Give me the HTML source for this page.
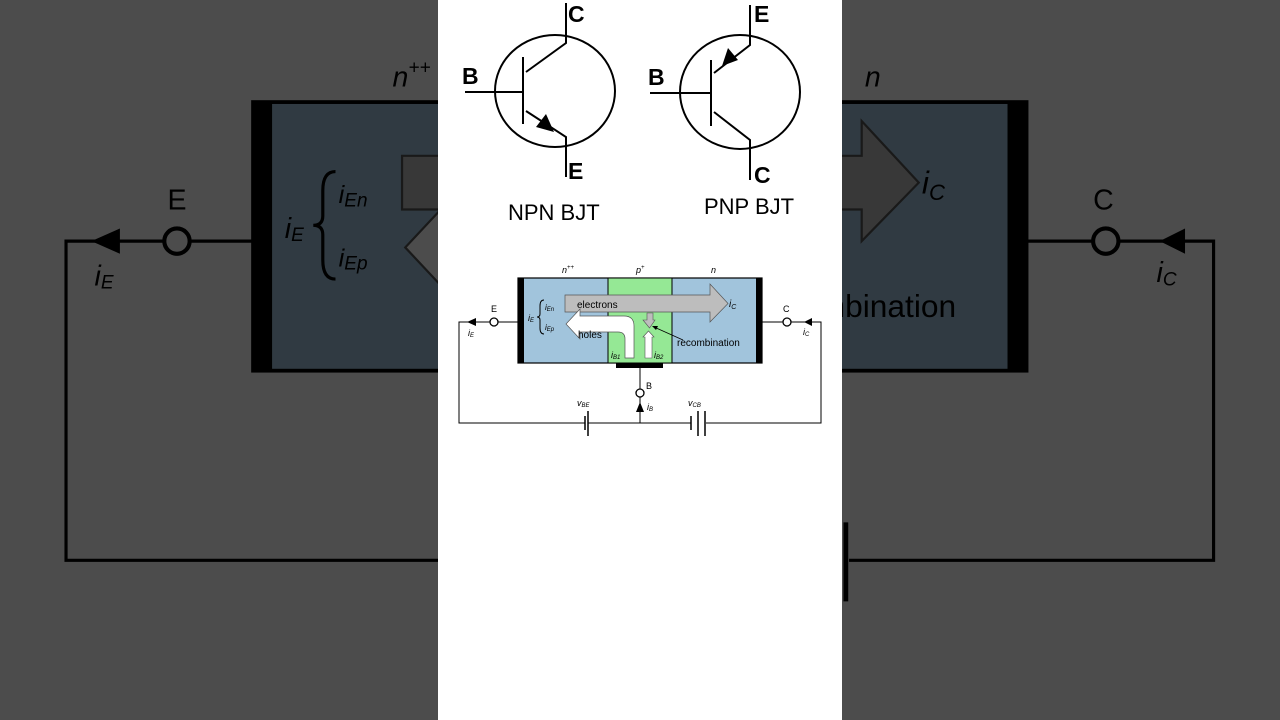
<!DOCTYPE html>
<html><head><meta charset="utf-8"><style>
html,body{margin:0;padding:0;background:#4d4d4d;}
svg{display:block;}
text{font-family:"Liberation Sans","DejaVu Sans",sans-serif;}
.it{font-style:italic;}
</style></head><body>
<svg width="1280" height="720" viewBox="0 0 1280 720" xmlns="http://www.w3.org/2000/svg">
<rect width="1280" height="720" fill="#fff"/>
<g transform="translate(-1389,-776.4) scale(3.17,3.16)">
  <rect x="518" y="278" width="244" height="85" fill="#a1c4dc" stroke="#000" stroke-width="1.2"/>
  <rect x="608" y="278" width="64" height="85" fill="#95e895" stroke="#000" stroke-width="1"/>
  <rect x="518" y="278" width="6" height="85" fill="#000"/>
  <rect x="756" y="278" width="6" height="85" fill="#000"/>
  <rect x="616" y="363" width="47" height="5" fill="#000"/>
  <path d="M565 295 H710 V284 L728 303.5 L710 322 V312 H565 Z" fill="#bdbdbd" stroke="#555" stroke-width="0.7"/>
  <path d="M634 358 V326 Q634 316 624 316 H580 V309 L566 324 L580 339 V332 H618 Q625 332 625 339 V358 Z" fill="#fff" stroke="#555" stroke-width="0.7"/>
  <path d="M647 313 H653 V320 H655 L649.5 328 L643 320 H647 Z" fill="#bdbdbd" stroke="#555" stroke-width="0.6"/>
  <path d="M645 358 V337 H643 L648.5 331 L654 337 H652 V358 Z" fill="#fff" stroke="#555" stroke-width="0.6"/>
  <line x1="683" y1="340" x2="654" y2="327" stroke="#000" stroke-width="0.8"/>
  <path d="M652 326 L658 326 L656 330 Z" fill="#000"/>
  <text x="577" y="308" font-size="10">electrons</text>
  <text x="578" y="338" font-size="10">holes</text>
  <text x="677" y="346" font-size="10">recombination</text>
  <text x="729" y="307" font-size="10" class="it">i<tspan font-size="7" dy="2">C</tspan></text>
  <text x="611" y="358" font-size="9" class="it">i<tspan font-size="6" dy="1">B1</tspan></text>
  <text x="654" y="358" font-size="9" class="it">i<tspan font-size="6" dy="1">B2</tspan></text>
  <text x="562" y="273" font-size="9" class="it">n<tspan font-size="6" dy="-4">++</tspan></text>
  <text x="636" y="273" font-size="9" class="it">p<tspan font-size="6" dy="-4">+</tspan></text>
  <text x="711" y="273" font-size="9" class="it">n</text>
  <text x="528" y="321" font-size="9" class="it">i<tspan font-size="6" dy="1">E</tspan></text>
  <text x="545" y="310" font-size="8" class="it">i<tspan font-size="6" dy="1">En</tspan></text>
  <text x="545" y="330" font-size="8" class="it">i<tspan font-size="6" dy="1">Ep</tspan></text>
  <path d="M544 300 Q540 300 540 306 V314 Q540 317 537 317 Q540 317 540 320 V328 Q540 334 544 334" fill="none" stroke="#000" stroke-width="1"/>
  <polyline points="518,322 498,322" fill="none" stroke="#000" stroke-width="1"/>
  <circle cx="494" cy="322" r="4" fill="#fff" stroke="#000" stroke-width="1.3"/>
  <polyline points="490,322 459,322 459,423 585,423" fill="none" stroke="#000" stroke-width="1"/>
  <path d="M467 322 L476 318 L476 326 Z" fill="#000"/>
  <text x="491" y="312" font-size="9">E</text>
  <text x="468" y="336" font-size="9" class="it">i<tspan font-size="6" dy="1">E</tspan></text>
  <polyline points="762,322 783,322" fill="none" stroke="#000" stroke-width="1"/>
  <circle cx="787" cy="322" r="4" fill="#fff" stroke="#000" stroke-width="1.3"/>
  <polyline points="791,322 821,322 821,423 706,423" fill="none" stroke="#000" stroke-width="1"/>
  <path d="M804 322 L812 318 L812 326 Z" fill="#000"/>
  <text x="783" y="312" font-size="9">C</text>
  <text x="803" y="335" font-size="9" class="it">i<tspan font-size="6" dy="1">C</tspan></text>
  <line x1="640" y1="368" x2="640" y2="389" stroke="#000" stroke-width="1"/>
  <circle cx="640" cy="393" r="4" fill="#fff" stroke="#000" stroke-width="1.3"/>
  <line x1="640" y1="397" x2="640" y2="423" stroke="#000" stroke-width="1"/>
  <path d="M640 402 L644 412 L636 412 Z" fill="#000"/>
  <text x="646" y="389" font-size="9">B</text>
  <text x="647" y="410" font-size="9" class="it">i<tspan font-size="6" dy="1">B</tspan></text>
  <line x1="588" y1="423" x2="691" y2="423" stroke="#000" stroke-width="1"/>
  <line x1="585" y1="416" x2="585" y2="430" stroke="#000" stroke-width="1.5"/>
  <line x1="588" y1="411" x2="588" y2="436" stroke="#000" stroke-width="1.5"/>
  <line x1="691" y1="416" x2="691" y2="430" stroke="#000" stroke-width="1.5"/>
  <line x1="698" y1="411" x2="698" y2="436" stroke="#000" stroke-width="1.5"/>
  <line x1="705" y1="411" x2="705" y2="436" stroke="#000" stroke-width="1.5"/>
  <text x="577" y="406" font-size="9" class="it">v<tspan font-size="6" dy="1">BE</tspan></text>
  <text x="688" y="406" font-size="9" class="it">v<tspan font-size="6" dy="1">CB</tspan></text>
</g>
<rect width="1280" height="720" fill="rgba(0,0,0,0.7)"/>
<rect x="438" y="0" width="404" height="720" fill="#fff"/>
<g>
  <rect x="518" y="278" width="244" height="85" fill="#a1c4dc" stroke="#000" stroke-width="1.2"/>
  <rect x="608" y="278" width="64" height="85" fill="#95e895" stroke="#000" stroke-width="1"/>
  <rect x="518" y="278" width="6" height="85" fill="#000"/>
  <rect x="756" y="278" width="6" height="85" fill="#000"/>
  <rect x="616" y="363" width="47" height="5" fill="#000"/>
  <path d="M565 295 H710 V284 L728 303.5 L710 322 V312 H565 Z" fill="#bdbdbd" stroke="#555" stroke-width="0.7"/>
  <path d="M634 358 V326 Q634 316 624 316 H580 V309 L566 324 L580 339 V332 H618 Q625 332 625 339 V358 Z" fill="#fff" stroke="#555" stroke-width="0.7"/>
  <path d="M647 313 H653 V320 H655 L649.5 328 L643 320 H647 Z" fill="#bdbdbd" stroke="#555" stroke-width="0.6"/>
  <path d="M645 358 V337 H643 L648.5 331 L654 337 H652 V358 Z" fill="#fff" stroke="#555" stroke-width="0.6"/>
  <line x1="683" y1="340" x2="654" y2="327" stroke="#000" stroke-width="0.8"/>
  <path d="M652 326 L658 326 L656 330 Z" fill="#000"/>
  <text x="577" y="308" font-size="10">electrons</text>
  <text x="578" y="338" font-size="10">holes</text>
  <text x="677" y="346" font-size="10">recombination</text>
  <text x="729" y="307" font-size="10" class="it">i<tspan font-size="7" dy="2">C</tspan></text>
  <text x="611" y="358" font-size="9" class="it">i<tspan font-size="6" dy="1">B1</tspan></text>
  <text x="654" y="358" font-size="9" class="it">i<tspan font-size="6" dy="1">B2</tspan></text>
  <text x="562" y="273" font-size="9" class="it">n<tspan font-size="6" dy="-4">++</tspan></text>
  <text x="636" y="273" font-size="9" class="it">p<tspan font-size="6" dy="-4">+</tspan></text>
  <text x="711" y="273" font-size="9" class="it">n</text>
  <text x="528" y="321" font-size="9" class="it">i<tspan font-size="6" dy="1">E</tspan></text>
  <text x="545" y="310" font-size="8" class="it">i<tspan font-size="6" dy="1">En</tspan></text>
  <text x="545" y="330" font-size="8" class="it">i<tspan font-size="6" dy="1">Ep</tspan></text>
  <path d="M544 300 Q540 300 540 306 V314 Q540 317 537 317 Q540 317 540 320 V328 Q540 334 544 334" fill="none" stroke="#000" stroke-width="1"/>
  <polyline points="518,322 498,322" fill="none" stroke="#000" stroke-width="1"/>
  <circle cx="494" cy="322" r="4" fill="#fff" stroke="#000" stroke-width="1.3"/>
  <polyline points="490,322 459,322 459,423 585,423" fill="none" stroke="#000" stroke-width="1"/>
  <path d="M467 322 L476 318 L476 326 Z" fill="#000"/>
  <text x="491" y="312" font-size="9">E</text>
  <text x="468" y="336" font-size="9" class="it">i<tspan font-size="6" dy="1">E</tspan></text>
  <polyline points="762,322 783,322" fill="none" stroke="#000" stroke-width="1"/>
  <circle cx="787" cy="322" r="4" fill="#fff" stroke="#000" stroke-width="1.3"/>
  <polyline points="791,322 821,322 821,423 706,423" fill="none" stroke="#000" stroke-width="1"/>
  <path d="M804 322 L812 318 L812 326 Z" fill="#000"/>
  <text x="783" y="312" font-size="9">C</text>
  <text x="803" y="335" font-size="9" class="it">i<tspan font-size="6" dy="1">C</tspan></text>
  <line x1="640" y1="368" x2="640" y2="389" stroke="#000" stroke-width="1"/>
  <circle cx="640" cy="393" r="4" fill="#fff" stroke="#000" stroke-width="1.3"/>
  <line x1="640" y1="397" x2="640" y2="423" stroke="#000" stroke-width="1"/>
  <path d="M640 402 L644 412 L636 412 Z" fill="#000"/>
  <text x="646" y="389" font-size="9">B</text>
  <text x="647" y="410" font-size="9" class="it">i<tspan font-size="6" dy="1">B</tspan></text>
  <line x1="588" y1="423" x2="691" y2="423" stroke="#000" stroke-width="1"/>
  <line x1="585" y1="416" x2="585" y2="430" stroke="#000" stroke-width="1.5"/>
  <line x1="588" y1="411" x2="588" y2="436" stroke="#000" stroke-width="1.5"/>
  <line x1="691" y1="416" x2="691" y2="430" stroke="#000" stroke-width="1.5"/>
  <line x1="698" y1="411" x2="698" y2="436" stroke="#000" stroke-width="1.5"/>
  <line x1="705" y1="411" x2="705" y2="436" stroke="#000" stroke-width="1.5"/>
  <text x="577" y="406" font-size="9" class="it">v<tspan font-size="6" dy="1">BE</tspan></text>
  <text x="688" y="406" font-size="9" class="it">v<tspan font-size="6" dy="1">CB</tspan></text>
</g>
<!-- NPN -->
<g fill="none" stroke="#000" stroke-width="2">
  <ellipse cx="555" cy="91" rx="60" ry="56"/>
  <line x1="465" y1="92" x2="523" y2="92"/>
  <line x1="523" y1="57" x2="523" y2="124"/>
  <polyline points="526,72 566,43 566,3"/>
  <polyline points="526,111 566,137 566,177"/>
  <ellipse cx="740" cy="92" rx="60" ry="57"/>
  <line x1="650" y1="93" x2="711" y2="93"/>
  <line x1="711" y1="60" x2="711" y2="126"/>
  <polyline points="714,73 750,45 750,5"/>
  <polyline points="714,112 750,140 750,180"/>
</g>
<path d="M554 132 L536 127 L546 114 Z" fill="#000"/>
<path d="M722 66 L728 48 L738 60 Z" fill="#000"/>
<g font-weight="bold" font-size="23">
  <text x="568" y="22">C</text>
  <text x="462" y="84">B</text>
  <text x="568" y="179">E</text>
  <text x="754" y="22">E</text>
  <text x="648" y="85">B</text>
  <text x="754" y="183">C</text>
</g>
<text x="508" y="220" font-size="22">NPN BJT</text>
<text x="704" y="214" font-size="22">PNP BJT</text>
</svg>
</body></html>
